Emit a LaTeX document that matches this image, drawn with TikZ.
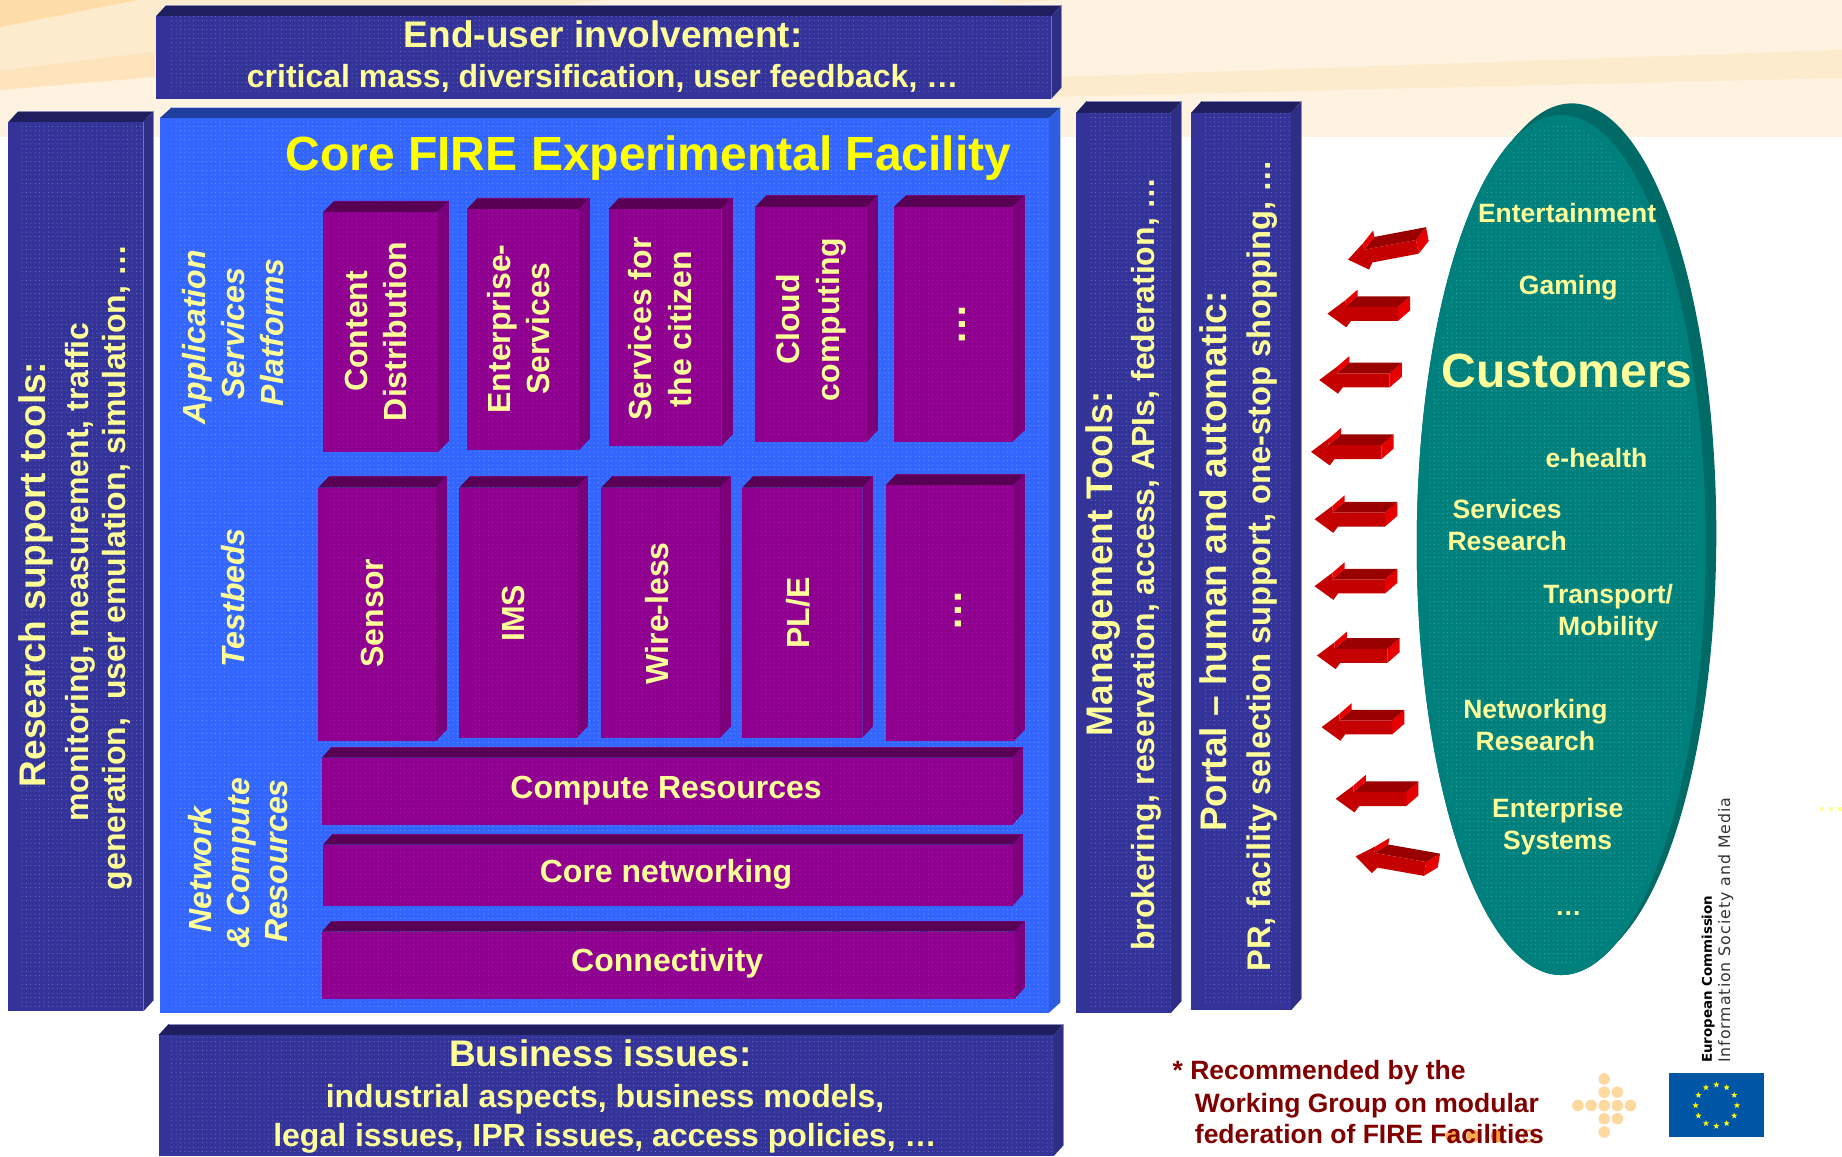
\documentclass[tikz,border=0pt]{standalone}
\usepackage{fontspec}
\setmainfont{Liberation Sans}
\newfontfamily\dvfont{DejaVu Sans}
\newfontfamily\dvspaced[LetterSpace=6]{DejaVu Sans}
\usetikzlibrary{patterns.meta,shapes.geometric}
\definecolor{bandA}{HTML}{FEF3E0}
\definecolor{bandB}{HTML}{FDEBCD}
\definecolor{bandC}{HTML}{FEE4BC}
\definecolor{bandD}{HTML}{FEDDA8}
\definecolor{navyF}{HTML}{333399}
\definecolor{navyT}{HTML}{1F1F5F}
\definecolor{navyS}{HTML}{2E2E85}
\definecolor{navyD}{HTML}{8080C4}
\definecolor{navyE}{HTML}{8C8CBE}
\definecolor{blueF}{HTML}{3366FF}
\definecolor{blueT}{HTML}{1F3F9F}
\definecolor{blueS}{HTML}{2E5DE0}
\definecolor{blueD}{HTML}{80A4FF}
\definecolor{blueE}{HTML}{B8C8F4}
\definecolor{purpF}{HTML}{900090}
\definecolor{purpT}{HTML}{570054}
\definecolor{purpS}{HTML}{7C007C}
\definecolor{purpD}{HTML}{A830A8}
\definecolor{purpE}{HTML}{7C007C}
\definecolor{tealF}{HTML}{00807C}
\definecolor{tealS}{HTML}{006A66}
\definecolor{tealD}{HTML}{4FB4B0}
\definecolor{txY}{HTML}{FFFF99}
\definecolor{titleY}{HTML}{FFFF00}
\definecolor{noteR}{HTML}{800000}
\definecolor{peach}{HTML}{FDD9A0}
\definecolor{euB}{HTML}{0055A4}
\definecolor{redF}{HTML}{C40000}
\definecolor{redT}{HTML}{990000}
\definecolor{redS}{HTML}{E60000}
\tikzset{
  tx/.style={text=txY,inner sep=0pt,font=\bfseries,align=center},
  note/.style={text=noteR,inner sep=0pt,font=\bfseries,anchor=west},
  dotfill/.style={pattern={Dots[distance=4.4pt,radius=0.5pt]},pattern color=#1}
}
% front top-left x,y; front bottom-right x,y; depth dx,dy; colour set
\newcommand\cube[7]{%
  \fill[#7T] (#1,#2)--({#1+#5},{#2-#6})--({#3+#5},{#2-#6})--(#3,#2)--cycle;
  \fill[#7S] (#3,#2)--({#3+#5},{#2-#6})--({#3+#5},{#4-#6})--(#3,#4)--cycle;
  \fill[#7F] (#1,#2) rectangle (#3,#4);
  \fill[dotfill=#7D] ({#1+10},#2) rectangle (#3,{#4-4});
  \draw[#7E,line width=0.7pt] ({#1+#5},{#2-#6})--({#3+#5},{#2-#6})--({#3+#5},{#4-#6});
}
\newcommand\hlab[5]{\node[tx] (#1) at (#2,{#3+3}) {\fontsize{#4}{#4}\selectfont\vphantom{Ag}#5};}
\newcommand\vlab[5]{\node[tx,rotate=90] (#1) at ({#2+3},#3) {\fontsize{#4}{#4}\selectfont\vphantom{Ag}#5};}
\newcommand\rarrow[3]{%
  \begin{scope}[shift={(#1,#2)},rotate=#3]
    \fill[redS] (60,-5.7)--(70.4,-14.8)--(70.4,-2.8)--(60,6.2)--cycle;
    \fill[redT] (15,-5.7)--(25.6,-14.8)--(70.4,-14.8)--(60,-5.7)--cycle;
    \fill[redS] (15.2,-11.4)--(25.6,-20.4)--(25.6,-14.8)--(15,-5.7)--cycle;
    \fill[redF] (0,0)--(15.2,-11.4)--(15,-5.7)--(60,-5.7)--(60,6.2)--(20,6.2)--(16,11.6)--cycle;
  \end{scope}}
\begin{document}
\begin{tikzpicture}[x=1.17474pt,y=-1.17474pt]
\useasboundingbox (0,0) rectangle (1568,984.05);
\fill[white] (0,0) rectangle (1568,984.05);
% background band
\fill[bandA] (0,0) rectangle (1568,116.6);
\fill[bandB] (0,0)--(515,0)--(0,60)--cycle;
\fill[bandD] (0,0)--(117,0)--(0,23)--cycle;
\fill[bandC] (0,60)--(132,44)--(132,65.5)--(0,76.6)--cycle;
\fill[bandB] (894,82.5)--(904,65.5)--(1568,42.5)--(1568,66.4)--cycle;
\fill[bandB] (851,3.4)--(903,0)--(851,0)--cycle;
% end-user box
\cube{133}{13.6}{895}{84}{8.5}{9.3}{navy}
\hlab{enduser}{513.5}{29}{37}{End-user involvement:}
\hlab{endusersub}{513}{64.5}{32}{critical mass, diversification, user feedback, …}
% research tools
\cube{7}{104}{122}{861}{8.5}{9.3}{navy}
\vlab{research}{28}{489}{37}{Research support tools:}
\vlab{researchA}{65}{487}{32}{monitoring, measurement, traffic}
\vlab{researchB}{97}{483}{32}{generation,\ \ user emulation, simulation, …}
% core facility
\cube{136}{100.5}{893}{862}{10}{9}{blue}
\node[tx,text=titleY] (coretitle) at (552,135) {\fontsize{48}{48}\selectfont\vphantom{Ag}Core FIRE Experimental Facility};
\vlab{asA}{165}{287}{32}{\itshape Application}
\vlab{asB}{198}{284}{32}{\itshape Services}
\vlab{asC}{231}{283}{32}{\itshape Platforms}
\vlab{tb}{198}{509}{32}{\itshape Testbeds}
\vlab{ncA}{170}{740}{32}{\itshape Network}
\vlab{ncB}{203}{735}{32}{\itshape \& Compute}
\vlab{ncC}{235}{733}{32}{\itshape Resources}
% application row
\cube{275}{180.5}{372.5}{385}{9.5}{9.5}{purp}
\cube{397.5}{178}{493}{383}{9}{9.5}{purp}
\cube{518}{178}{614}{380}{9}{9.5}{purp}
\cube{643}{176}{738}{376}{9}{9.5}{purp}
\cube{761}{176}{862}{376}{10}{9.5}{purp}
\vlab{contentA}{303}{282}{32}{Content}
\vlab{contentB}{336}{282}{32}{Distribution}
\vlab{entA}{425}{280}{32}{Enterprise-}
\vlab{entB}{458}{280}{32}{Services}
\vlab{citA}{545}{280}{32}{Services for}
\vlab{citB}{579}{280}{32}{the citizen}
\vlab{cloudA}{671}{272}{32}{Cloud}
\vlab{cloudB}{705}{272}{32}{computing}
\vlab{appdots}{810}{276}{42}{…}
% testbed row
\cube{271}{415}{371}{631}{9}{9.5}{purp}
\cube{391}{415}{491}{628}{9}{9.5}{purp}
\cube{512}{415}{613}{628}{9}{9.5}{purp}
\cube{632}{415}{734}{628}{9}{9.5}{purp}
\cube{754}{413}{863}{631}{9}{9.5}{purp}
\vlab{sensor}{317}{522}{32}{Sensor}
\vlab{ims}{437}{522}{32}{IMS}
\vlab{wire}{559}{522}{32}{Wire-less}
\vlab{ple}{679}{522}{32}{PL/E}
\vlab{tbdots}{807}{520}{42}{…}
% resource bars
\cube{274}{645}{862}{702}{8}{9}{purp}
\cube{275}{719}{862}{771}{8}{9}{purp}
\cube{274}{793}{864}{850}{8}{9}{purp}
\hlab{compute}{567}{670}{32}{Compute Resources}
\hlab{corenet}{567}{741}{32}{Core networking}
\hlab{conn}{568}{817}{32}{Connectivity}
% business box
\cube{135}{881}{897}{984.05}{8.5}{9.3}{navy}
\hlab{biz}{511}{897}{37}{Business issues:}
\hlab{bizA}{515}{933}{32}{industrial aspects, business models,}
\hlab{bizB}{515}{966}{32}{legal issues, IPR issues, access policies, …}
% management & portal
\cube{916}{96}{997}{862}{9}{10}{navy}
\cube{1014}{96}{1099}{860}{9}{10}{navy}
\vlab{mgmt}{936}{480}{37}{Management Tools:}
\vlab{mgmtA}{973}{480}{32}{brokering, reservation, access, APIs, federation, …}
\vlab{portal}{1033}{478}{37}{Portal – human and automatic:}
\vlab{portalA}{1071}{481.5}{32.7}{PR, facility selection support, one-stop shopping, …}
% arrows
\rarrow{1147.5}{221}{10.7}
\rarrow{1130}{267}{0}
\rarrow{1123}{323.5}{0}
\rarrow{1116}{384.6}{0}
\rarrow{1119}{442}{0}
\rarrow{1119}{499}{0}
\rarrow{1121}{558}{0}
\rarrow{1125}{619}{0}
\rarrow{1137}{680}{0}
\rarrow{1154}{729}{-10}
% customers ellipse
\foreach \t in {0,0.1,...,1.01}{\fill[tealS] ({1329+9*\t},{464-10*\t}) ellipse (123 and 366);}
\fill[tealF] (1329,464) ellipse (123 and 366);
\fill[dotfill=tealD] (1329,464) ellipse (116 and 358);
\hlab{ent}{1334}{181}{26.5}{Entertainment}
\hlab{gaming}{1335}{242}{26.5}{Gaming}
\hlab{customers}{1334}{317}{48}{Customers}
\hlab{ehealth}{1359}{389}{26.5}{e-health}
\hlab{srA}{1283}{433}{26.5}{Services}
\hlab{srB}{1283}{460}{26.5}{Research}
\hlab{tmA}{1369}{505}{26.5}{Transport/}
\hlab{tmB}{1369}{532}{26.5}{Mobility}
\hlab{nrA}{1307}{603}{26.5}{Networking}
\hlab{nrB}{1307}{630}{26.5}{Research}
\hlab{esA}{1326}{687}{26.5}{Enterprise}
\hlab{esB}{1326}{715}{26.5}{Systems}
\hlab{cdots}{1335}{771}{26.5}{…}
% far-right marks
\foreach \x in {1550.7,1558.6,1566.4}{\fill[txY] ({\x-1.7},687) rectangle ({\x+1.7},690.4);}
% logo dots
\foreach \dx/\dy in {0/-2,0/-1,1/-1,-2/0,-1/0,0/0,1/0,2/0,0/1,1/1,0/2}{\fill[peach] ({1365.6+11.2*\dx},{941+11.3*\dy}) circle (4.9);}
\fill[orange!55!bandD] (1236,967) circle (5.5);
\fill[orange!55!bandD] (1254,967) circle (5.5);
\fill[orange!70!bandD] (1274.6,967) circle (5.5);
\draw[orange!60!bandD,line width=1.4pt] (1301.6,967) circle (5);
% note
\node[note] (noteA) at (998,913) {\fontsize{26.5}{26.5}\selectfont\vphantom{Ag}* Recommended by the};
\node[note] (noteB) at (1017,941) {\fontsize{26.5}{26.5}\selectfont\vphantom{Ag}Working Group on modular};
\node[note] (noteC) at (1017,968) {\fontsize{26.5}{26.5}\selectfont\vphantom{Ag}federation of FIRE Facilities};
% EU flag
\fill[euB] (1420.6,913.6) rectangle (1501.7,968);
\foreach \i in {0,...,11}{\node[star,star points=5,star point ratio=2.4,fill=titleY,inner sep=0pt,minimum size=6.5pt] (eustar\i) at ({1461+17.6*cos(30*\i)},{941+17.6*sin(30*\i)}) {};}
\node[rotate=90,anchor=west,inner sep=0pt,text=black,font=\dvfont\bfseries\fontsize{13.4}{13.4}\selectfont] (ecA) at (1454,905) {European Commission};
\node[rotate=90,anchor=west,inner sep=0pt,text=black!80,font=\dvspaced\fontsize{15.8}{15.8}\selectfont] (ecB) at (1469,905) {Information Society and Media};
\end{tikzpicture}
\end{document}
